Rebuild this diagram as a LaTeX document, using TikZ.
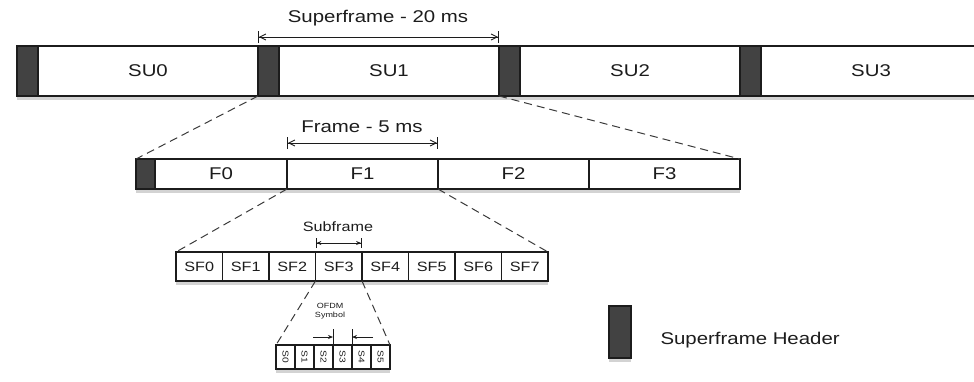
\documentclass[tikz,border=0pt]{standalone}
\usepackage{fontspec}
\setmainfont[FakeStretch=1.2]{Liberation Sans}
\usetikzlibrary{arrows.meta,positioning,shadows}
\definecolor{Ink}{HTML}{1C1C1C}
\definecolor{Head}{HTML}{424242}
\definecolor{Dash}{HTML}{3A3A3A}
\tikzset{
  cellbox/.style={draw=Ink,fill=white,line width=1.1pt,inner sep=0pt,outer sep=0pt,text=Ink,
    drop shadow={shadow xshift=0pt,shadow yshift=-4pt,opacity=0.35}},
  hdrbox/.style={cellbox,fill=Head},
  bigtext/.style={font=\fontsize{17}{20}\selectfont},
  midtext/.style={font=\fontsize{13.5}{16}\selectfont},
  tinytext/.style={font=\fontsize{7.5}{9}\selectfont},
  symtext/.style={font=\fontsize{8.5}{10}\selectfont},
  zoomline/.style={draw=Dash,dash pattern=on 8pt off 5pt,line width=1pt},
  span/.style={{Bar[width=12pt]Straight Barb[length=6pt,width=6pt]}-{Straight Barb[length=6pt,width=6pt]Bar[width=12pt]},draw=Ink,line width=0.9pt},
  smallspan/.style={{Bar[width=10pt]Stealth[length=5pt,width=4pt]}-{Stealth[length=5pt,width=4pt]Bar[width=10pt]},draw=Ink,line width=0.9pt},
  inarrow/.style={-{Stealth[length=5pt,width=4pt]},draw=Ink,line width=0.8pt}
}

\begin{document}
\begin{tikzpicture}[x=1pt,y=-1pt]
  \useasboundingbox (0,0) rectangle (974,381);

  % superframes
  \node[hdrbox,minimum width=21pt,minimum height=50pt,anchor=west] (hdr0) at (17,71) {};
  \node[cellbox,bigtext,minimum width=220pt,minimum height=50pt,right=0pt of hdr0] (su0) {SU0};
  \node[hdrbox,minimum width=21pt,minimum height=50pt,right=0pt of su0] (hdr1) {};
  \node[cellbox,bigtext,minimum width=220pt,minimum height=50pt,right=0pt of hdr1] (su1) {SU1};
  \node[hdrbox,minimum width=21pt,minimum height=50pt,right=0pt of su1] (hdr2) {};
  \node[cellbox,bigtext,minimum width=220pt,minimum height=50pt,right=0pt of hdr2] (su2) {SU2};
  \node[hdrbox,minimum width=21pt,minimum height=50pt,right=0pt of su2] (hdr3) {};
  \node[cellbox,bigtext,minimum width=220pt,minimum height=50pt,right=0pt of hdr3] (su3) {SU3};

  \draw[span] (hdr1.north west |- 0,37) -- (hdr2.north west |- 0,37);
  \node[bigtext,text=Ink] (sulabel) at (378,18) {Superframe - 20 ms};

  % frames
  \node[hdrbox,minimum width=19pt,minimum height=30pt,anchor=west] (fhdr) at (136,174) {};
  \node[cellbox,bigtext,minimum width=132pt,minimum height=30pt,right=0pt of fhdr] (f0) {F0};
  \node[cellbox,bigtext,minimum width=151pt,minimum height=30pt,right=0pt of f0] (f1) {F1};
  \node[cellbox,bigtext,minimum width=151pt,minimum height=30pt,right=0pt of f1] (f2) {F2};
  \node[cellbox,bigtext,minimum width=151pt,minimum height=30pt,right=0pt of f2] (f3) {F3};

  \draw[zoomline] (hdr1.south west) -- (fhdr.north west);
  \draw[zoomline] (su1.south east) -- (f3.north east);

  \draw[span] (f1.north west |- 0,143) -- (f1.north east |- 0,143);
  \node[bigtext,text=Ink] (flabel) at (362,127) {Frame - 5 ms};

  % subframes
  \foreach \i in {0,...,7}
    \node[cellbox,midtext,minimum width=46.5pt,minimum height=29pt] (sf\i) at ({199.25+46.5*\i},266.5) {SF\i};

  \draw[zoomline] (f1.south west) -- (sf0.north west);
  \draw[zoomline] (f1.south east) -- (sf7.north east);

  \draw[smallspan] (sf3.north west |- 0,243) -- (sf3.north east |- 0,243);
  \node[midtext,text=Ink] (sflabel) at (338,227) {Subframe};

  % OFDM symbols
  \foreach \i in {0,...,5}
    \node[cellbox,symtext,minimum width=19pt,minimum height=24pt] (s\i) at ({285.5+19*\i},357) {\rotatebox{-90}{S\i}};

  \draw[zoomline] (sf3.south west) -- (s0.north west);
  \draw[zoomline] (sf3.south east) -- (s5.north east);

  \node[tinytext,text=Ink,align=center] (symlabel) at (330,311) {OFDM\\Symbol};
  \draw[draw=Ink,line width=0.8pt] (s3.north west) -- ++(0,-16);
  \draw[draw=Ink,line width=0.8pt] (s3.north east) -- ++(0,-16);
  \coordinate (symL) at (313,337);
  \coordinate (symR) at (373,337);
  \draw[inarrow] (symL) -- (s3.north west |- symL);
  \draw[inarrow] (symR) -- (s3.north east |- symR);

  % legend
  \node[hdrbox,minimum width=22pt,minimum height=52pt] (lgbox) at (620,332) {};
  \node[bigtext,text=Ink,anchor=west] (lgtext) at (657,340) {Superframe Header};
\end{tikzpicture}
\end{document}
